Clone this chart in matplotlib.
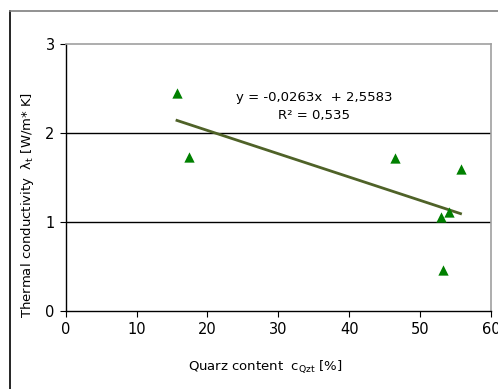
import numpy as np
import matplotlib
matplotlib.use("Agg")
import matplotlib.pyplot as plt
from matplotlib.lines import Line2D

# Data
quartz = [15.7, 17.35, 46.4, 55.7, 54.1, 52.9, 53.2]
conductivity = [2.45, 1.73, 1.72, 1.59, 1.11, 1.05, 0.46]
x_ticks = [0, 10, 20, 30, 40, 50, 60]
y_ticks = [0, 1, 2, 3]
eq_label = "y = -0,0263x  + 2,5583"
r2_label = "R² = 0,535"

W, H = 498, 389
fig = plt.figure(figsize=(W / 100, H / 100), dpi=100)
fig.patch.set_facecolor("white")

# Outer chart frame
fig.add_artist(Line2D([10 / W, 10 / W], [0, 1 - 11 / H], transform=fig.transFigure, color="black", lw=1.2))
fig.add_artist(Line2D([10 / W, 1], [1 - 11 / H, 1 - 11 / H], transform=fig.transFigure, color="#7f7f7f", lw=1.2))

ax = fig.add_axes([65.7 / W, 1 - 310.7 / H, (491 - 65.7) / W, (310.7 - 43.7) / H])
ax.set_xlim(0, 60)
ax.set_ylim(0, 3)

for s in ["top", "right"]:
    ax.spines[s].set_color("#a0a0a0")
    ax.spines[s].set_linewidth(1.2)
for s in ["left", "bottom"]:
    ax.spines[s].set_color("black")
    ax.spines[s].set_linewidth(1.0)

for yv in y_ticks[1:-1]:
    ax.axhline(yv, color="black", lw=1.0, zorder=1)

ax.set_xticks(x_ticks)
ax.set_yticks(y_ticks)
ax.tick_params(direction="out", length=4, width=0.8, labelsize=10.5, colors="black", pad=4)

# Trendline
k, b = np.polyfit(quartz, conductivity, 1)
xs = np.array([min(quartz), max(quartz)])
ax.plot(xs, k * xs + b, color="#4f6228", lw=2.0, zorder=2)

ax.scatter(quartz, conductivity, marker="^", s=55, color="#008000", zorder=3, linewidths=0)

ax.text(24.0, 2.4, eq_label, fontsize=9.5, ha="left", va="center")
ax.text(35.0, 2.19, r2_label, fontsize=9.5, ha="center", va="center")

fig.text(265 / W, 1 - 367 / H, r"Quarz content  c$_{\mathrm{Qzt}}$ [%]", fontsize=9.5, ha="center", va="center")
fig.text(27 / W, 1 - 205 / H, r"Thermal conductivity  λ$_{\mathrm{t}}$ [W/m* K]", fontsize=9.5,
         ha="center", va="center", rotation=90)

fig.savefig("out.png", dpi=100)
